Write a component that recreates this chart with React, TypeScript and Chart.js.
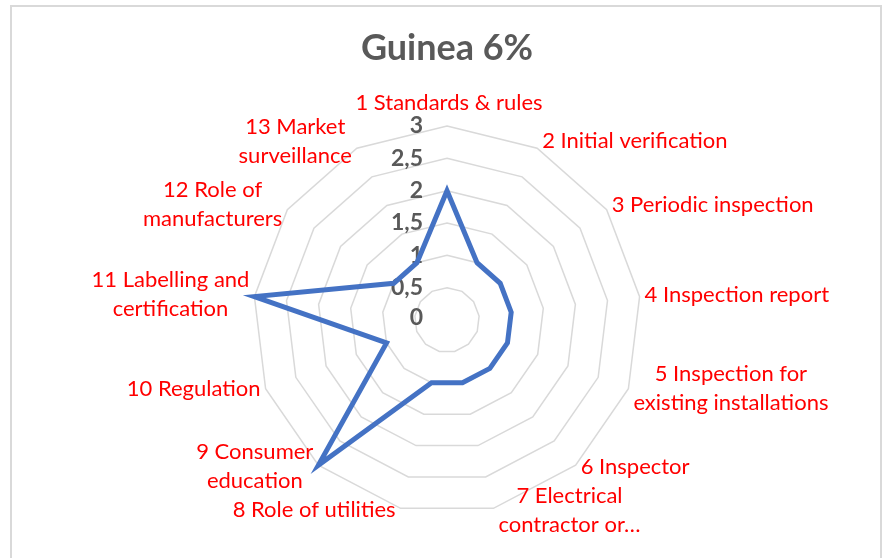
import React, { useEffect, useRef } from 'react';
import { Chart, registerables } from 'chart.js';

Chart.register(...registerables);

const TITLE = 'Guinea 6%';
const categories: string[][] = [
  ['1 Standards & rules'],
  ['2 Initial verification'],
  ['3 Periodic inspection'],
  ['4 Inspection report'],
  ['5 Inspection for', 'existing installations'],
  ['6 Inspector'],
  ['7 Electrical', 'contractor or…'],
  ['8 Role of utilities'],
  ['9 Consumer', 'education'],
  ['10 Regulation'],
  ['11 Labelling and', 'certification'],
  ['12 Role of', 'manufacturers'],
  ['13 Market', 'surveillance'],
];
const values = [2, 1, 1, 1, 1, 1, 1, 1, 3, 1, 3, 1, 1];
const tickValues = [0, 0.5, 1, 1.5, 2, 2.5, 3];
const tickLabels = ['0', '0,5', '1', '1,5', '2', '2,5', '3'];

const FONT = 'Lato, "Noto Sans", sans-serif';
const LABEL_SIZE = 22;
const LABEL_LINE = 29;
const TICK_SIZE = 23;

const borderPlugin = {
  id: 'excelBorder',
  beforeDraw(chart: any) {
    const ctx = chart.ctx;
    ctx.save();
    ctx.fillStyle = '#ffffff';
    ctx.fillRect(0, 0, chart.width, chart.height);
    ctx.strokeStyle = '#d9d9d9';
    ctx.lineWidth = 2;
    ctx.strokeRect(11, 6, 870, 600);
    ctx.restore();
  },
};

const tickPlugin = {
  id: 'leftTicks',
  beforeDatasetsDraw(chart: any) {
    const scale = chart.scales.r;
    const ctx = chart.ctx;
    ctx.save();
    ctx.font = `bold ${TICK_SIZE}px ${FONT}`;
    ctx.fillStyle = '#595959';
    ctx.textAlign = 'right';
    ctx.textBaseline = 'middle';
    tickValues.forEach((v, i) => {
      const d = scale.getDistanceFromCenterForValue(v);
      ctx.fillText(tickLabels[i], scale.xCenter - 24, scale.yCenter - d - (v === 0 ? 2 : 0));
    });
    ctx.restore();
  },
};

const labelPlugin = {
  id: 'excelPointLabels',
  afterDatasetsDraw(chart: any) {
    const scale = chart.scales.r;
    const ctx = chart.ctx;
    const n = categories.length;
    ctx.save();
    ctx.font = `${LABEL_SIZE}px ${FONT}`;
    ctx.fillStyle = '#ff0000';
    ctx.textBaseline = 'middle';
    ctx.textAlign = 'center';
    categories.forEach((lines, i) => {
      const theta = (2 * Math.PI * i) / n;
      const s = Math.sin(theta);
      const c = Math.cos(theta);
      const p = scale.getPointPosition(i, scale.drawingArea);
      const widths = lines.map((l) => ctx.measureText(l).width);
      const w = Math.max(...widths);
      const h = lines.length * LABEL_LINE;
      let cx: number;
      let cy: number;
      if (Math.abs(s) < 0.05) {
        cx = p.x + 2;
        cy = c > 0 ? p.y - 9 - h / 2 : p.y + 9 + h / 2;
      } else {
        cx = s > 0 ? p.x + 5 + w / 2 : p.x - 5 - w / 2;
        cy = c > 0 ? p.y - 1 - 7 * c : p.y - 1 - 3 * c;
      }
      lines.forEach((l, k) => {
        ctx.fillText(l, cx, cy - h / 2 + LABEL_LINE * (k + 0.5));
      });
    });
    ctx.restore();
  },
};

export default function App() {
  const ref = useRef<HTMLCanvasElement>(null);
  useEffect(() => {
    if (!ref.current) return;
    const chart = new Chart(ref.current, {
      type: 'radar',
      data: {
        labels: categories,
        datasets: [
          {
            label: TITLE,
            data: values,
            borderColor: '#4472C4',
            borderWidth: 5,
            borderJoinStyle: 'miter',
            pointRadius: 0,
            pointHoverRadius: 0,
            fill: false,
            tension: 0,
          },
        ],
      },
      options: {
        animation: false,
        responsive: false,
        maintainAspectRatio: false,
        layout: { padding: { top: 0, left: 6, right: 0, bottom: 43 } },
        plugins: {
          legend: { display: false },
          tooltip: { enabled: false },
          title: {
            display: true,
            text: TITLE,
            color: '#595959',
            font: { family: FONT, size: 36, weight: 'bold', lineHeight: 1.2 },
            padding: { top: 27, bottom: 55 },
          },
        },
        scales: {
          r: {
            min: 0,
            max: 3,
            beginAtZero: true,
            ticks: { display: false, stepSize: 0.5 },
            pointLabels: { display: false },
            angleLines: { display: false },
            grid: { color: '#d9d9d9', lineWidth: 1.5 },
          },
        },
      },
      plugins: [borderPlugin, tickPlugin, labelPlugin],
    });
    return () => chart.destroy();
  }, []);
  return (
    <div style={{ position: 'absolute', left: 0, top: 0, width: 888, height: 558 }}>
      <canvas ref={ref} width={888} height={558} style={{ display: 'block' }} />
    </div>
  );
}
